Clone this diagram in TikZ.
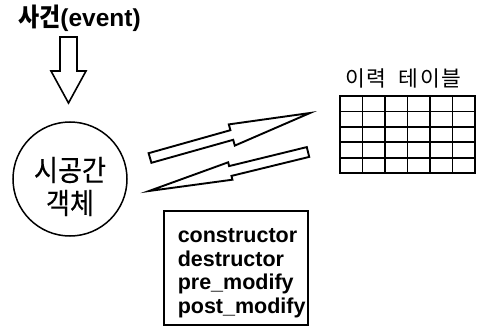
\documentclass[tikz,border=0pt]{standalone}
\usepackage{fontspec}
\setmainfont{Liberation Sans}
\newfontfamily\kr{Noto Sans CJK KR}
\newfontfamily\krtall[FakeStretch=0.9]{Noto Sans CJK KR}
\newfontfamily\krheavy[FakeStretch=0.9, FakeBold=0.4]{Noto Sans CJK KR}
\tikzset{
  outline/.style={line width=1.6pt, line join=miter},
  blockarrow/.style={line width=1.9pt, line join=miter},
  gridline/.style={line width=1.8pt},
}
\begin{document}
\begin{tikzpicture}[x=1pt, y=-1pt]
  \useasboundingbox (0,0) rectangle (478,326);
  % event and its hollow arrow
  \node (event) [anchor=base west, inner sep=0pt, font=\fontsize{24.5}{27}\selectfont\bfseries] at (18,27) {{\krtall\fontsize{25.5}{28}\selectfont 사건}(event)};
  \draw[outline] (60,37) -- (77,37) -- (77,71) -- (86,71) -- (68.5,103) -- (51,71) -- (60,71) -- cycle;
  % spatio-temporal object
  \node (obj) [circle, draw, line width=1.5pt, minimum size=114pt, align=center, font=\krheavy\fontsize{29}{33}\selectfont] at (70,179) {\rule{0pt}{39pt}시공간\\객체};
  % block arrows
  \draw[blockarrow] (148.6,153.2) -- (230.4,130.2) -- (228.8,124.4) -- (310,113) -- (234.8,145.6) -- (233.2,139.8) -- (151.4,162.8) -- cycle;
  \draw[blockarrow] (306.8,147.1) -- (229.1,166.1) -- (228.2,162.3) -- (149,191) -- (232.4,179.7) -- (231.5,175.9) -- (309.2,156.9) -- cycle;
  % history table
  \node (histtitle) [anchor=base, inner sep=0pt, font=\kr\fontsize{21.5}{24}\selectfont\addfontfeature{LetterSpace=8}] at (403.5,86.5) {이력\hspace{12pt}테이블};
  \draw[line width=2pt] (340,96) rectangle (475,173);
  \foreach \i in {1,...,5}
    \draw[gridline] (340+\i*22.5,96) -- (340+\i*22.5,173);
  \foreach \j in {1,...,4}
    \draw[gridline] (340,96+\j*15.4) -- (475,96+\j*15.4);
  % hook functions
  \node (hooks) [draw, line width=1.5pt, anchor=north west, inner xsep=0pt, inner ysep=0pt,
    text width=144pt, text height=32pt, text depth=82pt, align=left,
    font=\fontsize{21.5}{23.5}\selectfont\bfseries,
    execute at begin node=\leftskip14pt\relax] at (163,210)
    {constructor\\destructor\\pre\_modify\\post\_modify};
\end{tikzpicture}
\end{document}
